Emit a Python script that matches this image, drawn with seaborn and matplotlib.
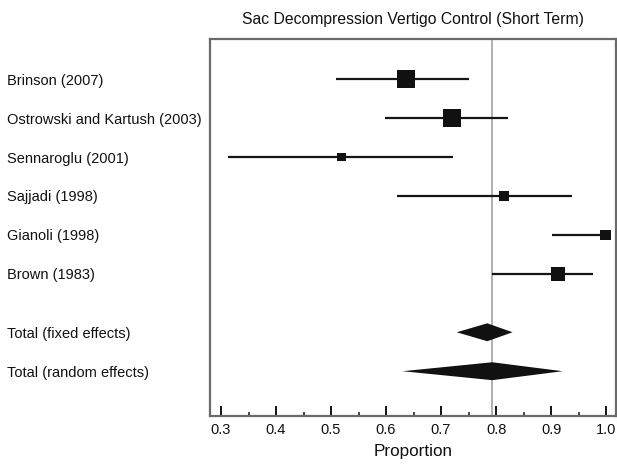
import matplotlib
matplotlib.use("Agg")
import matplotlib.pyplot as plt
import seaborn as sns
import numpy as np
import pandas as pd

# ---- data ----
studies = ["Brinson (2007)", "Ostrowski and Kartush (2003)", "Sennaroglu (2001)",
           "Sajjadi (1998)", "Gianoli (1998)", "Brown (1983)"]
est = [0.636, 0.720, 0.519, 0.815, 0.999, 0.912]
lo = [0.509, 0.599, 0.313, 0.620, 0.901, 0.793]
hi = [0.751, 0.822, 0.722, 0.938, 1.000, 0.976]
weights = [29.2, 29.2, 5.8, 9.0, 9.0, 17.7]

pooled_labels = ["Total (fixed effects)", "Total (random effects)"]
pooled_est = [0.784, 0.793]
pooled_lo = [0.7285, 0.630]
pooled_hi = [0.830, 0.921]

ref_value = 0.793
xticks = [0.3, 0.4, 0.5, 0.6, 0.7, 0.8, 0.9, 1.0]
xtick_labels = ["0.3", "0.4", "0.5", "0.6", "0.7", "0.8", "0.9", "1.0"]
minor_xticks = [0.35, 0.45, 0.55, 0.65, 0.75, 0.85, 0.95]

sns.set_theme(style="white")
plt.rcParams['font.family'] = ['Liberation Sans', 'DejaVu Sans']

fig = plt.figure(figsize=(6.17, 4.65), dpi=100)
ax = fig.add_axes([210/617, 1-416/465, (616-210)/617, (416-39)/465])

rows = list(range(len(studies)))
pooled_rows = [6.5, 7.5]

df = pd.DataFrame({"est": est, "row": rows, "w": weights})

# reference line
ax.axvline(ref_value, color="#9a9a9a", lw=1.1, zorder=1)

# CIs
ax.hlines(rows, lo, hi, color="#161616", lw=1.6, zorder=2)

# squares
sns.scatterplot(data=df, x="est", y="row", size="w", sizes=(0, 175),
                size_norm=(0, max(weights)), marker="s", color="#111111",
                edgecolor="none", linewidth=0, legend=False, ax=ax, zorder=3)

# diamonds
for r, e, l, h in zip(pooled_rows, pooled_est, pooled_lo, pooled_hi):
    ax.fill([l, e, h, e], [r, r - 0.23, r, r + 0.23], color="#111111",
            lw=0, zorder=3)

ax.set_xlim(0.28, 1.018)
ax.set_ylim(8.65, -1.03)

ax.set_xticks(xticks)
ax.set_xticklabels(xtick_labels)
ax.set_xticks(minor_xticks, minor=True)
ax.tick_params(axis="x", which="major", direction="in", length=7, width=1.4,
               color="#111111", bottom=True, labelbottom=True,
               labelsize=10.5, pad=5, labelcolor="#111111")
ax.tick_params(axis="x", which="minor", direction="in", length=3, width=1.1,
               color="#111111", bottom=True)

ax.set_yticks(rows + pooled_rows)
ax.set_yticklabels(studies + pooled_labels)
ax.tick_params(axis="y", length=0, labelsize=10.5, pad=146, labelcolor="#111111")
for t in ax.get_yticklabels():
    t.set_ha("left")

ax.set_xlabel("Proportion", fontsize=12.3, labelpad=5, color="#111111")
ax.set_ylabel("")
ax.set_title("Sac Decompression Vertigo Control (Short Term)", fontsize=11.3,
             pad=11, color="#111111")

for s in ax.spines.values():
    s.set_color("#6a6a6a")
    s.set_linewidth(1.6)

fig.savefig("out.png", dpi=100)
